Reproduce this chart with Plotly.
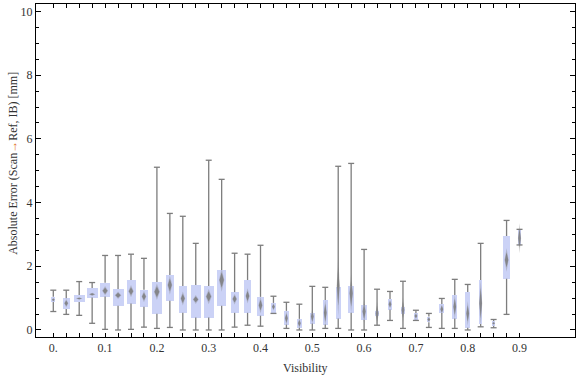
import plotly.graph_objects as go

# ---- data ----
positions = [0.000, 0.025, 0.050, 0.075, 0.100, 0.125, 0.150, 0.175, 0.200, 0.225,
             0.250, 0.275, 0.300, 0.325, 0.350, 0.375, 0.400, 0.425, 0.450, 0.475,
             0.500, 0.525, 0.550, 0.575, 0.600, 0.625, 0.650, 0.675, 0.700, 0.725,
             0.750, 0.775, 0.800, 0.825, 0.850, 0.875, 0.900]
whisker_low = [0.58, 0.49, 0.46, 0.21, 0.02, 0.00, 0.02, 0.09, 0.05, 0.08,
               0.00, 0.00, 0.00, 0.00, 0.09, 0.15, 0.12, 0.52, 0.05, 0.00,
               0.00, 0.05, 0.05, 0.00, 0.00, 0.15, 0.30, 0.05, 0.30, 0.08,
               0.05, 0.05, 0.00, 0.10, 0.07, 0.49, 2.67]
q1 = [0.88, 0.66, 0.88, 1.02, 1.05, 0.76, 0.83, 0.73, 0.51, 0.92,
      0.54, 0.39, 0.39, 0.76, 0.54, 0.54, 0.45, 0.53, 0.17, 0.07,
      0.20, 0.17, 0.36, 0.54, 0.32, 0.45, 0.64, 0.51, 0.32, 0.24,
      0.53, 0.36, 0.07, 0.19, 0.13, 1.61, 2.67]
means = [0.95, 0.84, 0.99, 1.12, 1.23, 1.09, 1.22, 1.05, 1.20, 1.41,
         0.99, 0.96, 1.05, 1.57, 0.97, 1.07, 0.78, 0.73, 0.37, 0.21,
         0.42, 0.54, 1.38, 1.15, 0.58, 0.52, 0.81, 0.63, 0.44, 0.33,
         0.65, 0.73, 0.52, 0.84, 0.21, 2.20, 2.88]
q3 = [1.04, 1.00, 1.10, 1.32, 1.48, 1.29, 1.57, 1.26, 1.51, 1.73,
      1.38, 1.41, 1.38, 1.88, 1.19, 1.57, 1.04, 0.85, 0.60, 0.35,
      0.53, 0.94, 1.35, 1.38, 0.78, 0.60, 0.97, 0.72, 0.53, 0.42,
      0.82, 1.10, 1.19, 1.57, 0.28, 2.95, 3.16]
whisker_high = [1.25, 1.25, 1.52, 1.49, 2.34, 2.34, 2.38, 2.25, 5.11, 3.66,
                3.57, 2.72, 5.33, 4.73, 2.41, 2.38, 2.66, 1.06, 0.87, 0.81,
                1.37, 1.34, 5.14, 5.23, 2.53, 1.28, 1.21, 1.53, 0.62, 0.52,
                0.99, 1.59, 1.43, 2.72, 0.33, 3.44, 3.16]
mean_ci = [0.06, 0.13, 0.04, 0.05, 0.15, 0.12, 0.19, 0.18, 0.26, 0.30,
           0.22, 0.14, 0.24, 0.37, 0.17, 0.24, 0.26, 0.12, 0.22, 0.16,
           0.25, 0.42, 0.94, 0.63, 0.37, 0.37, 0.15, 0.39, 0.10, 0.08,
           0.17, 0.39, 0.39, 0.73, 0.05, 0.37, 0.47]
box_width_px = [4, 7, 11, 11, 10, 11, 9, 8, 10, 8,
                8, 10, 10, 9, 8, 7, 7, 5, 4.5, 5,
                5, 4.5, 5, 6, 6, 4, 4, 4, 4, 3,
                5, 5, 5, 3, 3, 7, 3]
major_ticks = [0.0, 0.1, 0.2, 0.3, 0.4, 0.5, 0.6, 0.7, 0.8, 0.9]
major_labels = ["0.", "0.1", "0.2", "0.3", "0.4", "0.5", "0.6", "0.7", "0.8", "0.9"]

# ---- geometry helpers ----
W, H = 576, 377
ML, MR, MT, MB = 36, 1, 4, 40
XR = [-0.0334, 1.0071]
YR = [-0.22, 10.235]
PW, PH = W - ML - MR, H - MT - MB
px_per_x = PW / (XR[1] - XR[0])
cap = 3.0 / px_per_x

BOX_FILL = "rgb(203,210,246)"
GRAY = "rgb(125,125,125)"

fig = go.Figure()

# boxes
fig.add_trace(go.Bar(
    x=positions,
    y=[b - a for a, b in zip(q1, q3)],
    base=q1,
    width=[w / px_per_x for w in box_width_px],
    marker=dict(color=BOX_FILL, line=dict(width=0)),
    hoverinfo="skip", showlegend=False,
))

# whiskers (outside the boxes) with caps
wx, wy = [], []
for p, lo, a, b, hi in zip(positions, whisker_low, q1, q3, whisker_high):
    wx += [p, p, None, p, p, None, p - cap, p + cap, None, p - cap, p + cap, None]
    wy += [lo, a, None, b, hi, None, lo, lo, None, hi, hi, None]
fig.add_trace(go.Scatter(x=wx, y=wy, mode="lines",
                         line=dict(color=GRAY, width=1.3),
                         hoverinfo="skip", showlegend=False))

# diamonds (mean with confidence interval), drawn as outer faint + inner solid
def diamonds(hscale, wscale, opacity):
    dx, dy = [], []
    for p, m, hh, w in zip(positions, means, mean_ci, box_width_px):
        half_w = max(w * 0.3, 1.6) * wscale / px_per_x
        h = hh * hscale
        dx += [p - half_w, p, p + half_w, p, p - half_w, None]
        dy += [m, m + h, m, m - h, m, None]
    return go.Scatter(x=dx, y=dy, mode="lines", fill="toself",
                      fillcolor=GRAY, line=dict(width=0, color=GRAY),
                      opacity=opacity, hoverinfo="skip", showlegend=False)

fig.add_trace(diamonds(1.0, 1.0, 0.35))
fig.add_trace(diamonds(0.65, 0.8, 0.85))

FONT = "Liberation Serif"
TXT = "#333333"
fig.update_layout(
    width=W, height=H,
    margin=dict(l=ML, r=MR, t=MT, b=MB),
    paper_bgcolor="white", plot_bgcolor="white",
    font=dict(family=FONT, size=12, color=TXT),
    bargap=0,
    xaxis=dict(range=XR, showgrid=False, zeroline=False,
               showline=True, linecolor="black", linewidth=1, mirror="ticks",
               ticks="inside", ticklen=4, tickcolor="black", tickwidth=1,
               tickmode="array", tickvals=major_ticks, ticktext=major_labels,
               minor=dict(tickmode="array", tickvals=positions, ticks="inside",
                          ticklen=4, tickcolor="black", tickwidth=1, showgrid=False),
               tickfont=dict(family=FONT, size=12, color=TXT)),
    yaxis=dict(range=YR, showgrid=False, zeroline=False,
               showline=True, linecolor="black", linewidth=1, mirror="ticks",
               ticks="inside", ticklen=5, tickcolor="black", tickwidth=1,
               tickmode="linear", tick0=0, dtick=2,
               minor=dict(ticks="inside", ticklen=3, dtick=0.5, tick0=0,
                          tickcolor="black", tickwidth=1, showgrid=False),
               tickfont=dict(family=FONT, size=12, color=TXT)),
    annotations=[
        dict(text="Visibility", xref="paper", yref="paper",
             x=0.5, y=-(368 - (H - MB)) / PH,
             xanchor="center", yanchor="middle", showarrow=False,
             font=dict(family=FONT, size=12, color=TXT)),
        dict(text="Absolute Error (Scan<span style='color:#e0701e'>→</span>Ref, IB) [mm]",
             xref="paper", yref="paper",
             x=(13 - ML) / PW, y=0.52,
             xanchor="center", yanchor="middle", textangle=-90, showarrow=False,
             font=dict(family=FONT, size=12, color=TXT)),
    ],
)

fig.write_html("out.html",
               config={"displayModeBar": False, "staticPlot": True},
               post_script="document.body.style.margin='0';document.body.style.overflow='hidden';")
